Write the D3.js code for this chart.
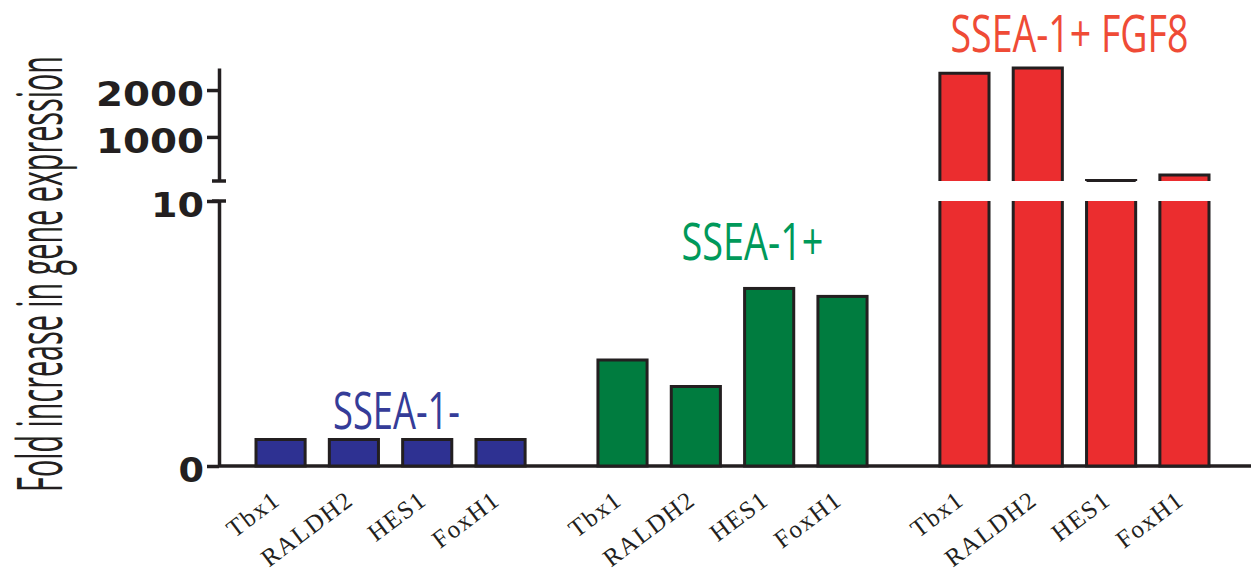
<!DOCTYPE html>
<html>
<head>
<meta charset="utf-8">
<script src="https://cdn.jsdelivr.net/npm/d3@7"></script>
<style>
  body { margin: 0; background: #fff; }
</style>
</head>
<body>
<div id="chart"></div>
<script>
var groups = ["SSEA-1-", "SSEA-1+", "SSEA-1+ FGF8"];
var genes = ["Tbx1", "RALDH2", "HES1", "FoxH1"];
var ssea1Neg = [1, 1, 1, 1];
var ssea1Pos = [4.0, 3.0, 6.7, 6.4];
var ssea1PosFgf8 = [2360, 2470, 70, 190];
var lowTicks = [0, 10];
var highTicks = [1000, 2000];

var seriesValues = [ssea1Neg, ssea1Pos, ssea1PosFgf8];
var barColors = ["#2e3192", "#007c3f", "#eb2d2f"];
var labelColors = ["#353c98", "#00995a", "#ef4b36"];
var ink = "#231f20";

var width = 1253, height = 577;

var svg = d3.select("#chart").append("svg")
    .attr("width", width)
    .attr("height", height);

// two stacked y segments, broken between 10 and the thousands
var yLow = d3.scaleLinear().domain([0, 10]).range([466, 201]);
var yHigh = d3.scaleLinear().domain([60, 2470]).range([181, 68]);

var xGroup = d3.scaleBand().domain(groups).range([256, 1209]).paddingInner(0.213).paddingOuter(0);
var xGene = d3.scaleBand().domain(genes).range([0, xGroup.bandwidth()]).paddingInner(0.33).paddingOuter(0);

var axisX = 219;

// condensed look: set text at a small size, then stretch it to the wanted width / height
function fitText(textSel, target, sy, prefix) {
    textSel.each(function () {
        var w = this.getComputedTextLength();
        var t = typeof target === "function" ? target.call(this) : target;
        var p = prefix ? prefix.call(this) : "";
        d3.select(this).attr("transform", p + " scale(" + (t / w) + "," + sy + ")");
    });
}

function styleTicks(sel) {
    sel.select(".domain").attr("stroke", ink).attr("stroke-width", 3.5);
    sel.selectAll(".tick line").attr("stroke", ink).attr("stroke-width", 3.5);
    sel.selectAll(".tick text")
        .attr("fill", ink)
        .attr("font-family", "DejaVu Sans")
        .attr("font-weight", "bold")
        .attr("font-size", 33)
        .attr("dy", "0.48em")
        .attr("lengthAdjust", "spacingAndGlyphs")
        .attr("textLength", function () { return this.textContent.length * 27.5 - 2; });
}

svg.append("g")
    .attr("transform", "translate(" + axisX + ",0)")
    .call(d3.axisLeft(yLow).tickValues(lowTicks).tickSize(12).tickSizeOuter(0).tickPadding(3))
    .call(styleTicks);

svg.append("g")
    .attr("transform", "translate(" + axisX + ",0)")
    .call(d3.axisLeft(yHigh).tickValues(highTicks).tickFormat(d3.format("d")).tickSize(12).tickSizeOuter(0).tickPadding(3))
    .call(styleTicks);

// break caps
[yLow(10), yHigh(60)].forEach(function (yy) {
    svg.append("line")
        .attr("x1", axisX - 7).attr("x2", axisX + 7)
        .attr("y1", yy).attr("y2", yy)
        .attr("stroke", ink).attr("stroke-width", 3.5);
});

// baseline
svg.append("line")
    .attr("x1", axisX).attr("x2", 1251)
    .attr("y1", yLow(0)).attr("y2", yLow(0))
    .attr("stroke", ink).attr("stroke-width", 3.5);

var bars = [];
groups.forEach(function (g, gi) {
    genes.forEach(function (gene, i) {
        bars.push({ group: g, gi: gi, gene: gene, value: seriesValues[gi][i] });
    });
});

var barG = svg.append("g");

bars.forEach(function (d) {
    var x0 = xGroup(d.group) + xGene(d.gene);
    var x1 = x0 + xGene.bandwidth();
    var color = barColors[d.gi];
    if (d.value <= 10) {
        barG.append("rect")
            .attr("x", x0).attr("y", yLow(d.value))
            .attr("width", x1 - x0).attr("height", yLow(0) - yLow(d.value))
            .attr("fill", color).attr("stroke", ink).attr("stroke-width", 3);
    } else {
        var yb = yLow(0), yt = yLow(10);
        barG.append("rect")
            .attr("x", x0).attr("y", yt)
            .attr("width", x1 - x0).attr("height", yb - yt)
            .attr("fill", color);
        barG.append("path")
            .attr("d", "M" + x0 + "," + yt + "V" + yb + "H" + x1 + "V" + yt)
            .attr("fill", "none").attr("stroke", ink).attr("stroke-width", 3);
        var ub = yHigh(60), ut = yHigh(d.value);
        barG.append("rect")
            .attr("x", x0).attr("y", ut)
            .attr("width", x1 - x0).attr("height", ub - ut)
            .attr("fill", color);
        barG.append("path")
            .attr("d", "M" + x0 + "," + ub + "V" + ut + "H" + x1 + "V" + ub)
            .attr("fill", "none").attr("stroke", ink).attr("stroke-width", 3);
    }
});

// gene labels under each bar
svg.append("g").selectAll("text")
    .data(bars)
    .enter().append("text")
    .attr("transform", function (d) {
        var cx = xGroup(d.group) + xGene(d.gene) + xGene.bandwidth() / 2;
        return "translate(" + (cx + 1) + ",503) rotate(-37)";
    })
    .attr("text-anchor", "end")
    .attr("font-family", "Liberation Serif")
    .attr("font-size", 25)
    .attr("letter-spacing", 1.5)
    .attr("fill", ink)
    .text(function (d) { return d.gene; });

// group titles (set at 26px, stretched x2 vertically to a 52px look)
var titleLayout = [
    { dx: 6, y: yLow(1) - 11, len: 127 },
    { dx: 20, y: yLow(6.7) - 28, len: 142 },
    { dx: -5, y: yHigh(2470) - 16, len: 238 }
];
svg.append("g").selectAll("text")
    .data(groups)
    .enter().append("text")
    .attr("x", 0)
    .attr("y", 0)
    .attr("text-anchor", "middle")
    .attr("font-family", "'Liberation Sans Narrow', 'Open Sans', sans-serif")
    .attr("font-size", 26)
    .attr("fill", function (d, i) { return labelColors[i]; })
    .text(function (d) { return d; })
    .call(fitText,
        function () { return titleLayout[groups.indexOf(d3.select(this).datum())].len; },
        2,
        function () {
            var d = d3.select(this).datum(), i = groups.indexOf(d);
            return "translate(" + (xGroup(d) + xGroup.bandwidth() / 2 + titleLayout[i].dx) + "," + titleLayout[i].y + ")";
        });

// y axis title
svg.append("text")
    .attr("text-anchor", "middle")
    .attr("font-family", "'Liberation Sans Narrow', 'Open Sans', sans-serif")
    .attr("font-size", 31)
    .attr("fill", ink)
    .text("Fold increase in gene expression")
    .call(fitText, 436, 2, function () { return "translate(62,274) rotate(-90)"; });
</script>
</body>
</html>
